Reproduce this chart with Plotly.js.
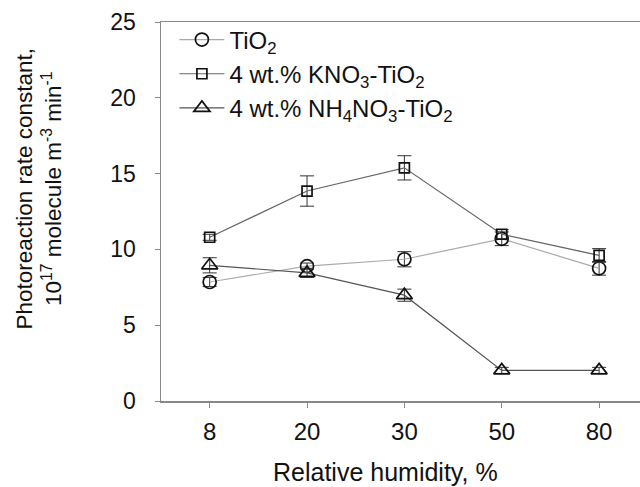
<!DOCTYPE html>
<html>
<head>
<meta charset="utf-8">
<script src="https://cdn.plot.ly/plotly-3.0.1.min.js"></script>
<style>html,body{margin:0;padding:0;background:#fff}#chart{width:640px;height:487px}</style>
</head>
<body>
<div id="chart"></div>
<script>
const categories = ["8", "20", "30", "50", "80"];
const tio2 = [7.85, 8.9, 9.35, 10.7, 8.75];
const tio2Err = [0.3, 0.2, 0.5, 0.45, 0.45];
const kno3 = [10.8, 13.85, 15.38, 11.0, 9.6];
const kno3Err = [0.2, 1.0, 0.8, 0.3, 0.45];
const nh4no3 = [8.95, 8.45, 6.98, 2.02, 2.02];
const nh4no3Err = [0.5, 0.3, 0.4, 0.2, 0.2];
const xTitle = "Relative humidity, %";
const yTitle = "Photoreaction rate constant,<br>10<sup>17</sup> molecule m<sup>-3</sup> min<sup>-1</sup>";

const font = "Liberation Sans, Arial, sans-serif";

function series(name, y, err, symbol, lineColor, size) {
  return {
    type: "scatter", mode: "lines+markers", name: name,
    x: categories, y: y,
    line: {color: lineColor, width: 1.2},
    marker: {symbol: symbol, size: size, color: "#111", line: {color: "#111", width: 1.7}},
    error_y: {type: "data", array: err, visible: true, color: "#333", thickness: 1, width: 7}
  };
}

const data = [
  series("TiO<sub>2</sub>", tio2, tio2Err, "circle-open", "#aaaaaa", 13),
  series("4 wt.% KNO<sub>3</sub>-TiO<sub>2</sub>", kno3, kno3Err, "square-open", "#666666", 10),
  series("4 wt.% NH<sub>4</sub>NO<sub>3</sub>-TiO<sub>2</sub>", nh4no3, nh4no3Err, "triangle-up-open", "#555555", 14)
];

const layout = {
  width: 640, height: 487,
  margin: {l: 161, r: 0, t: 22, b: 86},
  paper_bgcolor: "#fff", plot_bgcolor: "#fff",
  font: {family: font, size: 23, color: "#111"},
  showlegend: true,
  legend: {x: 0.028, y: 1.012, xanchor: "left", yanchor: "top", bgcolor: "rgba(0,0,0,0)",
           font: {family: font, size: 24, color: "#111"}, tracegroupgap: 0, itemwidth: 45},
  xaxis: {
    type: "category", range: [-0.5, 4.42],
    showline: true, linecolor: "#888", linewidth: 1.5, mirror: true,
    ticks: "outside", ticklen: 5, tickcolor: "#888", tickwidth: 1,
    showgrid: false, zeroline: false, ticklabelstandoff: 4,
    tickfont: {family: font, size: 24, color: "#111"}
  },
  yaxis: {
    range: [0, 25], tickvals: [0, 5, 10, 15, 20, 25],
    showline: true, linecolor: "#888", linewidth: 1.5,
    ticks: "outside", ticklen: 5, tickcolor: "#888", tickwidth: 1,
    showgrid: false, zeroline: false, ticklabelstandoff: 14,
    tickfont: {family: font, size: 23, color: "#111"}
  },
  annotations: [
    {text: xTitle, xref: "paper", yref: "paper", x: 0.468, y: -0.188, xanchor: "center", yanchor: "middle",
     showarrow: false, font: {family: font, size: 25, color: "#111"}},
    {text: yTitle, xref: "paper", yref: "paper", x: -0.254, y: 0.559, xanchor: "center", yanchor: "middle",
     textangle: -90, showarrow: false, font: {family: font, size: 22.5, color: "#111"}}
  ]
};

Plotly.newPlot("chart", data, layout, {displayModeBar: false, staticPlot: true});
</script>
</body>
</html>
